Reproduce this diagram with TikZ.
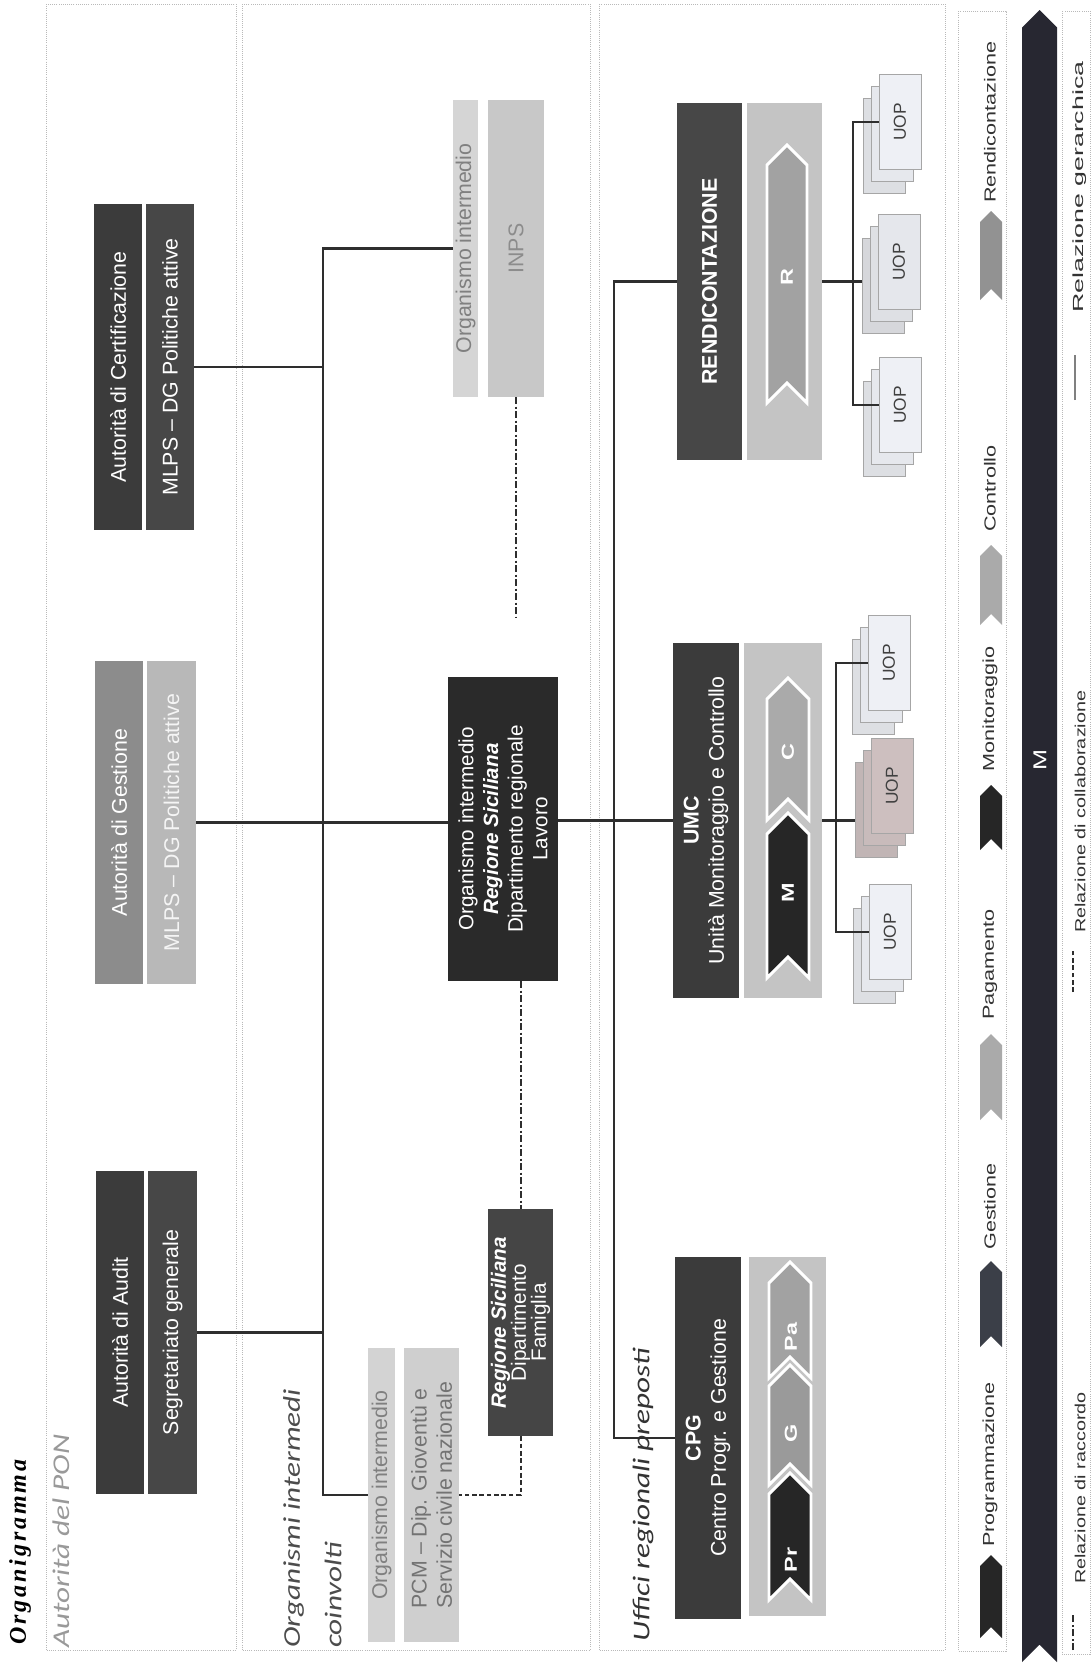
\documentclass[tikz,border=0pt]{standalone}
\usepackage{fontspec}
\setmainfont{Liberation Sans}
\newfontfamily\titlefont[LetterSpace=12]{Liberation Serif}
\newfontfamily\secfont[FakeStretch=1.3]{Carlito}
\newfontfamily\narrowfont[FakeStretch=1.35]{Liberation Sans}
\usetikzlibrary{fit}

\definecolor{lineC}{HTML}{2E2E2E}
\definecolor{boxDark}{HTML}{3B3B3B}
\definecolor{boxDarkB}{HTML}{474747}
\definecolor{boxMid}{HTML}{8C8C8C}
\definecolor{boxLight}{HTML}{B8B8B8}
\definecolor{boxPale}{HTML}{D5D5D5}
\definecolor{boxBlack}{HTML}{2A2A2A}
\definecolor{panelC}{HTML}{C4C4C4}
\definecolor{chevDark}{HTML}{262626}
\definecolor{chevSlate}{HTML}{3B3F48}
\definecolor{chevGrey}{HTML}{A2A2A2}
\definecolor{chevLight}{HTML}{AAAAAA}
\definecolor{arrowC}{HTML}{272731}
\definecolor{uopW}{HTML}{EEF0F5}
\definecolor{uopP}{HTML}{CDBFBF}

\tikzset{
  frame/.style={draw=gray!55, densely dotted, line width=0.6pt},
  box/.style={draw=none, fill=#1, inner sep=0pt},
  boxtxt/.style={rotate=90, align=center, inner sep=0pt, font=\fontsize{16}{19}\selectfont},
  hier/.style={draw=lineC, line width=1.8pt},
  raccordo/.style={draw=lineC, line width=1.5pt, dash pattern=on 5pt off 2pt on 1.5pt off 2pt},
  collab/.style={draw=lineC, line width=1.5pt, dash pattern=on 3.5pt off 2pt},
  uopcard/.style={rotate=90, draw=gray!70, fill=#1, line width=0.6pt, minimum width=71pt,
    minimum height=31.5pt, inner sep=0pt, font=\fontsize{13}{13}\selectfont, text=black!75},
  chevtxt/.style={rotate=90, text=white, inner sep=0pt, font=\narrowfont\bfseries\fontsize{13}{13}\selectfont},
  legtxt/.style={rotate=90, anchor=west, inner sep=0pt, text=black!80, font=\narrowfont\fontsize{12}{12}\selectfont},
  reltxt/.style={legtxt, font=\narrowfont\fontsize{11}{11}\selectfont},
  sectxt/.style={rotate=90, anchor=west, inner sep=0pt, font=\secfont\itshape\fontsize{18}{31}\selectfont},
}

% chevron: x left, x right, y tip, y bottom, style
\newcommand{\chevshape}[5]{%
  \pgfmathsetmacro{\chevmid}{(#1+#2)/2}%
  \pgfmathsetmacro{\chevd}{(#2-#1)/2}%
  \filldraw[#5] (#1,#4) -- (\chevmid,#4-\chevd) -- (#2,#4) -- (#2,#3+\chevd) -- (\chevmid,#3) -- (#1,#3+\chevd) -- cycle;}

% stack of three UOP cards: name, x, y (front card), colour
\newcommand{\uopstack}[4]{%
  \node[uopcard=#4!85!gray] (#1c) at (#2-16,#3+24) {};
  \node[uopcard=#4!93!gray] (#1b) at (#2-8,#3+12) {};
  \node[uopcard=#4] (#1) at (#2,#3) {UOP};}

\begin{document}
\begin{tikzpicture}[x=0.75pt,y=0.75pt,yscale=-1,xscale=1]
\useasboundingbox (0,0) rectangle (1091,1674);
\fill[white] (0,0) rectangle (1091,1674);

% section frames
\draw[frame] (46,4) rectangle (236,1650);
\draw[frame] (242,4) rectangle (590,1650);
\draw[frame] (599,4) rectangle (945,1650);
\draw[frame] (958,11) rectangle (1006,1651);
\draw[frame] (1062,11) rectangle (1090,1654);

% titles
\node[rotate=90, anchor=west, inner sep=0pt, font=\titlefont\bfseries\itshape\fontsize{18}{18}\selectfont] (title) at (20,1645) {Organigramma};
\node[sectxt, text=gray!80] (secPon) at (61,1648) {Autorità del PON};
\node[sectxt, anchor=north west, align=left, text=black!70] (secOrg) at (283,1648) {Organismi intermedi\\coinvolti};
\node[sectxt, text=black!80] (secUff) at (643,1642) {Uffici regionali preposti};

% Autorita del PON
\node[box=boxDark, fit={(94,204) (142,530)}] (certA) {};
\node[box=boxDarkB, fit={(146,204) (194,530)}] (certB) {};
\node[boxtxt, text=white] (certAt) at (certA) {Autorità di Certificazione};
\node[boxtxt, text=white] (certBt) at (certB) {MLPS -- DG Politiche attive};

\node[box=boxMid, fit={(95,661) (143,984)}] (gestA) {};
\node[box=boxLight, fit={(147,661) (196,984)}] (gestB) {};
\node[boxtxt, text=white] (gestAt) at (gestA) {Autorità di Gestione};
\node[boxtxt, text=white!92!gray] (gestBt) at (gestB) {MLPS -- DG Politiche attive};

\node[box=boxDark, fit={(96,1171) (144,1494)}] (audA) {};
\node[box=boxDarkB, fit={(148,1171) (197,1494)}] (audB) {};
\node[boxtxt, text=white] (audAt) at (audA) {Autorità di Audit};
\node[boxtxt, text=white] (audBt) at (audB) {Segretariato generale};

% Organismi intermedi
\node[box=boxPale, fit={(453,100) (478,397)}] (inpsA) {};
\node[box=boxPale!94!black, fit={(488,100) (544,397)}] (inpsB) {};
\node[boxtxt, text=gray] (inpsAt) at (inpsA) {Organismo intermedio};
\node[boxtxt, text=gray!90] (inpsBt) at (inpsB) {INPS};

\node[box=boxBlack, fit={(448,677) (558,981)}] (reg) {};
\node[boxtxt, text=white, font=\fontsize{15.5}{18.5}\selectfont] (regt) at (reg) {Organismo intermedio\\\textbf{\textit{Regione Siciliana}}\\Dipartimento regionale\\Lavoro};

\node[box=boxDark!95!white, fit={(488,1209) (553,1436)}] (fam) {};
\node[boxtxt, text=white, font=\fontsize{15.5}{15}\selectfont] (famt) at (fam) {\textbf{\textit{Regione Siciliana}}\\Dipartimento\\Famiglia};

\node[box=boxPale!105!white, fit={(368,1348) (395,1642)}] (pcmA) {};
\node[box=boxPale!97!black, fit={(404,1348) (459,1642)}] (pcmB) {};
\node[boxtxt, text=gray] (pcmAt) at (pcmA) {Organismo intermedio};
\node[boxtxt, text=black!55, align=left] (pcmBt) at (pcmB) {PCM -- Dip. Gioventù e\\Servizio civile nazionale};

% Uffici regionali preposti
\node[box=boxDark, fit={(675,1257) (741,1619)}] (cpgA) {};
\node[box=panelC, fit={(749,1257) (826,1616)}] (cpgB) {};
\node[boxtxt, text=white] (cpgAt) at (cpgA) {\textbf{CPG}\\Centro Progr. e Gestione};
\chevshape{769}{811}{1262}{1378}{fill=chevGrey, draw=white, line width=2.2pt}
\chevshape{769}{811}{1365}{1485}{fill=chevGrey!95!black, draw=white, line width=2.2pt}
\chevshape{769}{811}{1473}{1600}{fill=chevDark, draw=white, line width=2.2pt}
\node[chevtxt] (chPa) at (791,1337) {Pa};
\node[chevtxt] (chG) at (791,1433) {G};
\node[chevtxt] (chPr) at (791,1560) {Pr};

\node[box=boxDark, fit={(673,643) (739,998)}] (umcA) {};
\node[box=panelC, fit={(744,643) (822,998)}] (umcB) {};
\node[boxtxt, text=white] (umcAt) at (umcA) {\textbf{UMC}\\Unità Monitoraggio e Controllo};
\chevshape{767}{809}{678}{820}{fill=chevLight, draw=white, line width=2.2pt}
\chevshape{767}{809}{813}{978}{fill=chevDark, draw=white, line width=2.2pt}
\node[chevtxt] (chC) at (788,752) {C};
\node[chevtxt] (chM) at (788,893) {M};

\node[box=boxDarkB, fit={(677,103) (742,460)}] (rendA) {};
\node[box=panelC, fit={(747,103) (822,460)}] (rendB) {};
\node[boxtxt, text=white] (rendAt) at (rendA) {\textbf{RENDICONTAZIONE}};
\chevshape{767}{807}{145}{403}{fill=chevGrey, draw=white, line width=2.2pt}
\node[chevtxt] (chR) at (787,277) {R};

% UOP stacks
\uopstack{uA}{889}{663}{uopW}
\uopstack{uB}{892}{786}{uopP}
\uopstack{uC}{890}{932}{uopW}
\uopstack{rA}{900}{122}{uopW}
\uopstack{rB}{899}{262}{uopW!92!gray}
\uopstack{rC}{900}{405}{uopW}

% hierarchy
\coordinate (lbus) at (323,0);
\coordinate (rbus) at (614,0);
\coordinate (ubus) at (836,0);
\coordinate (qbus) at (853,0);
\draw[hier] (inpsA.west) -| (lbus |- pcmA.west) -- (pcmA.west);
\draw[hier] (certB.east) -- (certB.east -| lbus);
\draw[hier] (audB.east) -- (audB.east -| lbus);
\draw[hier] (gestB.east) -- (gestB.east -| reg.west);
\draw[hier] (umcA.west -| reg.east) -- (umcA.west);
\draw[hier] (rendA.west) -| (rbus |- cpgA.west) -- (cpgA.west);
\draw[hier] (umcB.east) -- (umcB.east -| uBc.north);
\draw[hier] (uA.north) -| (ubus |- uC.north) -- (uC.north);
\draw[hier] (rendB.east) -- (rendB.east -| rBc.north);
\draw[hier] (rA.north) -| (qbus |- rC.north) -- (rC.north);

% raccordo and collaborazione
\coordinate (inpsEnd) at (516,618);
\draw[raccordo] (inpsB.south) -- (inpsEnd);
\draw[raccordo] (fam.north |- reg.south) -- (fam.north);
\draw[collab] (fam.south) |- (pcmB.east);

% legend
\chevshape{980}{1002}{1555}{1638}{fill=chevDark, draw=none}
\chevshape{980}{1002}{1261}{1347}{fill=chevSlate, draw=none}
\chevshape{980}{1002}{1034}{1120}{fill=chevLight, draw=none}
\chevshape{980}{1002}{785}{850}{fill=chevDark, draw=none}
\chevshape{980}{1002}{545}{625}{fill=chevLight, draw=none}
\chevshape{980}{1002}{211}{300}{fill=chevGrey!90!black, draw=none}
\node[legtxt] (lProg) at (990,1547) {Programmazione};
\node[legtxt] (lGest) at (990,1250) {Gestione};
\node[legtxt] (lPag) at (990,1020) {Pagamento};
\node[legtxt] (lMon) at (990,772) {Monitoraggio};
\node[legtxt] (lCon) at (990,532) {Controllo};
\node[legtxt] (lRen) at (990,203) {Rendicontazione};

\chevshape{1022}{1057}{10}{1662}{fill=arrowC, draw=none}
\node[chevtxt, font=\narrowfont\fontsize{14}{14}\selectfont] (mLab) at (1040,760) {M};

\draw[raccordo, line width=1pt] (1073,1650) -- (1073,1614);
\draw[collab, line width=1pt] (1073,992) -- (1073,949);
\draw[gray, line width=1.2pt] (1075,400) -- (1075,355);
\node[reltxt] (rRac) at (1080,1584) {Relazione di raccordo};
\node[reltxt] (rCol) at (1080,933) {Relazione di collaborazione};
\node[reltxt, xscale=1.35] (rGer) at (1080,313) {Relazione gerarchica};

\end{tikzpicture}
\end{document}
